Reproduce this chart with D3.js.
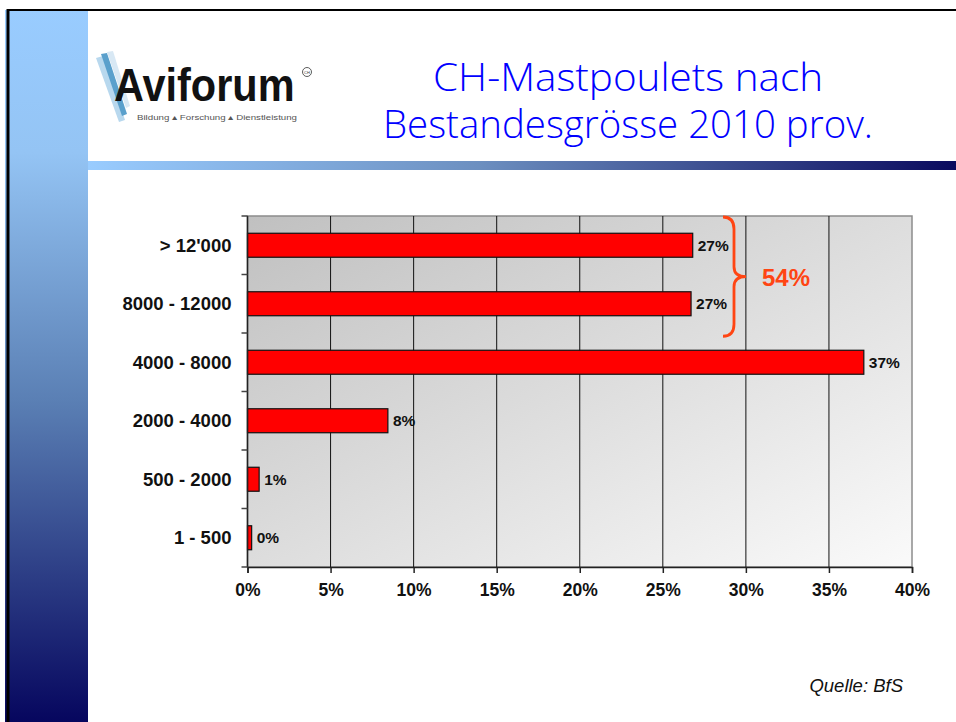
<!DOCTYPE html>
<html>
<head>
<meta charset="utf-8">
<script src="https://cdn.jsdelivr.net/npm/d3@7"></script>
<style>
  body { margin: 0; background: #fff; }
  svg { display: block; }
  text { font-family: Arial, "Liberation Sans", sans-serif; }
</style>
</head>
<body>
<div id="chart"></div>
<script>
// Data
const categories = ["> 12'000", "8000 - 12000", "4000 - 8000", "2000 - 4000", "500 - 2000", "1 - 500"]
const shares = [0.268, 0.267, 0.371, 0.0845, 0.007, 0.0025]   // share of broilers per herd size
const xTicks = [0, 0.05, 0.10, 0.15, 0.20, 0.25, 0.30, 0.35, 0.40]
const bracketGroups = ["> 12'000", "8000 - 12000"]               // the two largest sizes, bracketed
const bracketLabel = "54%"

const width = 956, height = 722

const svg = d3.select("#chart").append("svg")
    .attr("width", width)
    .attr("height", height)

const defs = svg.append("defs")

// Slide decoration gradients
const side = defs.append("linearGradient").attr("id", "side")
    .attr("x1", 0).attr("y1", 0).attr("x2", 0).attr("y2", 1)
side.append("stop").attr("offset", "0").attr("stop-color", "#99ccff")
side.append("stop").attr("offset", "0.2").attr("stop-color", "#94c4f4")
side.append("stop").attr("offset", "0.55").attr("stop-color", "#5a7fb4")
side.append("stop").attr("offset", "1").attr("stop-color", "#06065e")

const rule = defs.append("linearGradient").attr("id", "rule")
    .attr("x1", 0).attr("y1", 0).attr("x2", 1).attr("y2", 0)
rule.append("stop").attr("offset", "0").attr("stop-color", "#99ccff")
rule.append("stop").attr("offset", "0.45").attr("stop-color", "#6c8fc0")
rule.append("stop").attr("offset", "1").attr("stop-color", "#0a0a5e")

const plotBg = defs.append("linearGradient").attr("id", "plotBg")
    .attr("x1", 0).attr("y1", 0).attr("x2", 1).attr("y2", 1)
plotBg.append("stop").attr("offset", "0").attr("stop-color", "#c0c0c0")
plotBg.append("stop").attr("offset", "1").attr("stop-color", "#fafafa")

// Slide frame
svg.append("rect").attr("x", 5).attr("y", 10).attr("width", 83).attr("height", height - 10)
    .attr("fill", "url(#side)")
svg.append("line").attr("x1", 8).attr("x2", 8).attr("y1", 9).attr("y2", height)
    .attr("stroke", "#000").attr("stroke-width", 3)
svg.append("line").attr("x1", 7).attr("x2", width).attr("y1", 10).attr("y2", 10)
    .attr("stroke", "#000").attr("stroke-width", 2)
svg.append("rect").attr("x", 88).attr("y", 161).attr("width", width - 88).attr("height", 9)
    .attr("fill", "url(#rule)")

// Logo
const logo = svg.append("g")
logo.append("path").attr("d", "M96,58 L103,56 L125,120 L119,122 Z").attr("fill", "#b8d8ee")
logo.append("path").attr("d", "M101,54 L107,53 L127,114 L122,116 Z").attr("fill", "#5aa0cc")
logo.append("path").attr("d", "M107,52 L113,51 L130,106 L126,108 Z").attr("fill", "#d8e8f4")
logo.append("text").attr("transform", "translate(114,101) scale(1,1.12)")
    .attr("font-size", 41.5).attr("font-weight", "bold").attr("fill", "#111")
    .text("Aviforum")
logo.append("circle").attr("cx", 307).attr("cy", 72).attr("r", 4.5)
    .attr("fill", "none").attr("stroke", "#333").attr("stroke-width", 0.8)
logo.append("text").attr("x", 307).attr("y", 73.5).attr("text-anchor", "middle")
    .attr("font-size", 4).attr("fill", "#333").text("CH")
logo.append("text").attr("x", 137).attr("y", 120)
    .attr("font-size", 7.5).attr("fill", "#555")
    .attr("textLength", 160).attr("lengthAdjust", "spacingAndGlyphs")
    .text("Bildung \u25B4 Forschung \u25B4 Dienstleistung")

// Title
const title = svg.append("g").attr("fill", "#0000ff")
    .attr("font-size", 38).attr("font-weight", 300).attr("text-anchor", "middle")
title.append("text").attr("x", 628).attr("y", 91)
    .style("font-family", "'Open Sans', sans-serif")
    .attr("textLength", 390).attr("lengthAdjust", "spacingAndGlyphs")
    .text("CH-Mastpoulets nach")
title.append("text").attr("x", 628).attr("y", 138)
    .style("font-family", "'Open Sans', sans-serif")
    .attr("textLength", 490).attr("lengthAdjust", "spacingAndGlyphs")
    .text("Bestandesgrösse 2010 prov.")

// Chart
const margin = { left: 247.5, top: 216, right: 912, bottom: 567 }

const x = d3.scaleLinear().domain([0, 0.40]).range([margin.left, margin.right])
const y = d3.scaleBand().domain(categories).range([margin.top, margin.bottom])
    .paddingInner(0.59).paddingOuter(0.295)

svg.append("rect")
    .attr("x", margin.left).attr("y", margin.top)
    .attr("width", margin.right - margin.left).attr("height", margin.bottom - margin.top)
    .attr("fill", "url(#plotBg)").attr("stroke", "#8c8c8c").attr("stroke-width", 1.5)

// vertical grid lines
svg.append("g").selectAll("line")
    .data(xTicks.slice(1, -1))
    .join("line")
    .attr("x1", d => x(d)).attr("x2", d => x(d))
    .attr("y1", margin.top).attr("y2", margin.bottom)
    .attr("stroke", "#111").attr("stroke-width", 1)

// bars
svg.append("g").selectAll("rect")
    .data(shares)
    .join("rect")
    .attr("x", x(0))
    .attr("y", (d, i) => y(categories[i]))
    .attr("width", d => x(d) - x(0))
    .attr("height", y.bandwidth())
    .attr("fill", "#ff0000")
    .attr("stroke", "#111").attr("stroke-width", 1.2)

// value labels
const pct = d3.format(".0%")
svg.append("g").selectAll("text")
    .data(shares)
    .join("text")
    .attr("x", d => x(d) + 5)
    .attr("y", (d, i) => y(categories[i]) + y.bandwidth() / 2 + 5.5)
    .attr("font-size", 15.5).attr("font-weight", "bold").attr("fill", "#111")
    .text(d => pct(d))

// x axis
const xAxis = svg.append("g")
    .attr("transform", `translate(0,${margin.bottom})`)
    .call(d3.axisBottom(x).tickValues(xTicks).tickFormat(pct).tickSize(6).tickPadding(11))
xAxis.select(".domain").attr("stroke", "#222").attr("stroke-width", 1.5)
xAxis.selectAll(".tick line").attr("stroke", "#222").attr("stroke-width", 1.5)
xAxis.selectAll("text")
    .attr("font-size", 17.5).attr("font-weight", "bold").attr("fill", "#111")
    .style("font-family", "Arial, 'Liberation Sans', sans-serif")

// y axis: ticks sit on the band boundaries
const yAxis = svg.append("g")
    .attr("transform", `translate(${margin.left},0)`)
yAxis.append("line")
    .attr("x1", 0).attr("x2", 0).attr("y1", margin.top).attr("y2", margin.bottom)
    .attr("stroke", "#222").attr("stroke-width", 1.5)
yAxis.selectAll(".bound")
    .data(d3.range(categories.length + 1))
    .join("line").attr("class", "bound")
    .attr("x1", -6).attr("x2", 0)
    .attr("y1", i => margin.top + i * y.step())
    .attr("y2", i => margin.top + i * y.step())
    .attr("stroke", "#444").attr("stroke-width", 1.5)
yAxis.selectAll("text")
    .data(categories)
    .join("text")
    .attr("x", -16)
    .attr("y", d => y(d) + y.bandwidth() / 2 + 6.5)
    .attr("text-anchor", "end")
    .attr("font-size", 18.5).attr("font-weight", "bold").attr("fill", "#111")
    .text(d => d)

// bracket over the two largest herd-size classes
const bTop = margin.top + 1
const bBot = y(bracketGroups[1]) + y.step() - 14
const bMid = (bTop + bBot) / 2
const bx = 723, bv = 734, btip = 746
svg.append("path")
    .attr("d", `M${bx},${bTop} Q${bv},${bTop} ${bv},${bTop + 12} L${bv},${bMid - 10} Q${bv},${bMid} ${btip},${bMid}` +
               ` Q${bv},${bMid} ${bv},${bMid + 10} L${bv},${bBot - 12} Q${bv},${bBot} ${bx},${bBot}`)
    .attr("fill", "none").attr("stroke", "#ff4513").attr("stroke-width", 2.8)
svg.append("text")
    .attr("x", 762).attr("y", bMid + 9)
    .attr("font-size", 24).attr("font-weight", "bold").attr("fill", "#ff4513")
    .text(bracketLabel)

// source
svg.append("text")
    .attr("x", 903).attr("y", 692).attr("text-anchor", "end")
    .attr("font-size", 18.5).attr("font-style", "italic").attr("fill", "#111")
    .text("Quelle: BfS")
</script>
</body>
</html>
